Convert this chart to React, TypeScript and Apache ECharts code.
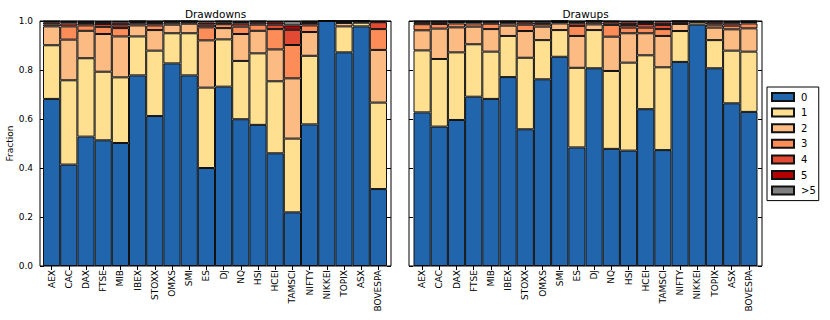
import { useEffect, useRef } from 'react';
import * as echarts from 'echarts';

const categories = ['AEX', 'CAC', 'DAX', 'FTSE', 'MIB', 'IBEX', 'STOXX', 'OMXS', 'SMI', 'ES', 'DJ', 'NQ', 'HSI', 'HCEI', 'TAMSCI', 'NIFTY', 'NIKKEI', 'TOPIX', 'ASX', 'BOVESPA'];
const buckets = ['0', '1', '2', '3', '4', '5', '>5'];
const yTicks = [0, 0.2, 0.4, 0.6, 0.8, 1.0];
const panelTitles = ['Drawdowns', 'Drawups'];

// Drawdowns: fraction per bucket, one value per index
const dd0 = [0.682, 0.414, 0.528, 0.513, 0.502, 0.778, 0.612, 0.827, 0.778, 0.400, 0.732, 0.599, 0.576, 0.460, 0.219, 0.578, 1.0, 0.872, 0.978, 0.314];
const dd1 = [0.219, 0.344, 0.320, 0.280, 0.268, 0.159, 0.267, 0.123, 0.172, 0.328, 0.193, 0.238, 0.292, 0.294, 0.301, 0.280, 0, 0.106, 0.015, 0.353];
const dd2 = [0.077, 0.166, 0.112, 0.154, 0.167, 0.045, 0.084, 0.035, 0.039, 0.193, 0.046, 0.110, 0.092, 0.130, 0.246, 0.097, 0, 0.014, 0.005, 0.215];
const dd3 = [0.008, 0.054, 0.022, 0.029, 0.034, 0.009, 0.019, 0.008, 0.006, 0.053, 0.016, 0.030, 0.025, 0.083, 0.136, 0.027, 0, 0.005, 0.002, 0.085];
const dd4 = [0.008, 0.012, 0.010, 0.012, 0.011, 0.005, 0.010, 0.004, 0.003, 0.011, 0.007, 0.012, 0.008, 0.018, 0.062, 0.010, 0, 0.002, 0, 0.028];
const dd5 = [0.004, 0.007, 0.005, 0.008, 0.011, 0.003, 0.005, 0.002, 0.001, 0.009, 0.004, 0.007, 0.005, 0.010, 0.018, 0.005, 0, 0.001, 0, 0.003];
const dd6 = [0.002, 0.003, 0.003, 0.004, 0.007, 0.001, 0.003, 0.001, 0.001, 0.006, 0.002, 0.004, 0.002, 0.005, 0.018, 0.003, 0, 0, 0, 0.002];

// Drawups
const du0 = [0.627, 0.569, 0.596, 0.691, 0.682, 0.771, 0.558, 0.762, 0.854, 0.484, 0.807, 0.478, 0.471, 0.640, 0.473, 0.833, 0.985, 0.807, 0.664, 0.629];
const du1 = [0.253, 0.276, 0.276, 0.214, 0.193, 0.168, 0.292, 0.160, 0.109, 0.325, 0.156, 0.318, 0.359, 0.220, 0.338, 0.126, 0.010, 0.115, 0.215, 0.246];
const du2 = [0.082, 0.124, 0.102, 0.072, 0.092, 0.042, 0.109, 0.055, 0.027, 0.130, 0.023, 0.140, 0.120, 0.090, 0.128, 0.029, 0.003, 0.051, 0.087, 0.095];
const du3 = [0.025, 0.019, 0.016, 0.013, 0.022, 0.010, 0.026, 0.010, 0.006, 0.041, 0.008, 0.048, 0.023, 0.023, 0.028, 0.007, 0, 0.012, 0.015, 0.020];
const du4 = [0.008, 0.007, 0.006, 0.006, 0.006, 0.005, 0.009, 0.007, 0.003, 0.011, 0.004, 0.010, 0.011, 0.015, 0.017, 0.003, 0, 0.008, 0.010, 0.006];
const du5 = [0.003, 0.003, 0.003, 0.003, 0.003, 0.003, 0.004, 0.004, 0.001, 0.006, 0.002, 0.004, 0.010, 0.008, 0.010, 0.001, 0, 0.005, 0.006, 0.003];
const du6 = [0.002, 0.002, 0.001, 0.001, 0.002, 0.001, 0.002, 0.002, 0, 0.003, 0, 0.002, 0.006, 0.004, 0.006, 0.001, 0.002, 0.002, 0.003, 0.001];

const drawdowns = [dd0, dd1, dd2, dd3, dd4, dd5, dd6];
const drawups = [du0, du1, du2, du3, du4, du5, du6];

const colors = ['#2166ac', '#fee090', '#fdbb84', '#fc8d59', '#e34a33', '#b30000', '#7f7f7f'];
const FONT = 'DejaVu Sans';

export default function App() {
  const ref = useRef<HTMLDivElement>(null);

  useEffect(() => {
    const chart = echarts.init(ref.current as HTMLDivElement, null, { renderer: 'svg' });

    const mkX = (gridIndex: number, position: string, showLabel: boolean) => ({
      type: 'category',
      gridIndex,
      position,
      data: categories,
      axisLine: { show: false },
      axisTick: { show: true, inside: true, length: 4, alignWithLabel: true, lineStyle: { color: '#000', width: 1 } },
      axisLabel: { show: showLabel, rotate: 90, interval: 0, fontSize: 9, fontFamily: FONT, color: '#000', margin: 4 },
      splitLine: { show: false },
    });

    const mkY = (gridIndex: number, position: string, offset: number, showLabel: boolean, name: string) => ({
      type: 'value',
      gridIndex,
      position,
      offset,
      min: 0,
      max: 1,
      interval: 0.2,
      axisLine: { show: false },
      axisTick: { show: true, inside: true, length: 4, lineStyle: { color: '#000', width: 1 } },
      axisLabel: {
        show: showLabel,
        fontSize: 9,
        fontFamily: FONT,
        color: '#000',
        margin: 7,
        customValues: yTicks,
        formatter: (v: number) => v.toFixed(1),
      },
      splitLine: { show: false },
      name,
      nameLocation: 'middle',
      nameGap: 18,
      nameTextStyle: { fontSize: 9, fontFamily: FONT, color: '#000' },
    });

    const series: any[] = [];
    buckets.forEach((b, k) => {
      series.push({
        name: b,
        type: 'bar',
        stack: 'dd',
        xAxisIndex: 0,
        yAxisIndex: 0,
        data: drawdowns[k],
        barWidth: '100%',
        barCategoryGap: '0%',
        itemStyle: { color: colors[k], borderColor: '#111', borderWidth: 1 },
      });
    });
    buckets.forEach((b, k) => {
      series.push({
        name: b,
        type: 'bar',
        stack: 'du',
        xAxisIndex: 2,
        yAxisIndex: 2,
        data: drawups[k],
        barWidth: '100%',
        barCategoryGap: '0%',
        itemStyle: { color: colors[k], borderColor: '#111', borderWidth: 1 },
      });
    });

    const frameStyle = { fill: 'none', stroke: '#000', lineWidth: 1 };
    const titleStyle = (text: string) => ({
      text,
      textAlign: 'center',
      textVerticalAlign: 'middle',
      fontSize: 10.5,
      fontFamily: FONT,
      fill: '#000',
    });

    chart.setOption({
      animation: false,
      backgroundColor: '#fff',
      textStyle: { fontFamily: FONT },
      legend: {
        data: buckets,
        orient: 'vertical',
        left: 767,
        top: 87,
        padding: [5, 3, 5, 4],
        itemWidth: 22,
        itemHeight: 8,
        itemGap: 5.6,
        icon: 'rect',
        borderColor: '#000',
        borderWidth: 1,
        backgroundColor: '#fff',
        selectedMode: false,
        textStyle: { fontSize: 10, lineHeight: 10, fontFamily: FONT, color: '#000', padding: [0, 0, 0, 2] },
      },
      grid: [
        { left: 43, top: 21, width: 344, height: 245, containLabel: false },
        { left: 413.5, top: 21, width: 344, height: 245, containLabel: false },
      ],
      xAxis: [mkX(0, 'bottom', true), mkX(0, 'top', false), mkX(1, 'bottom', true), mkX(1, 'top', false)],
      yAxis: [mkY(0, 'left', 3, true, 'Fraction'), mkY(0, 'right', 4, false, ''), mkY(1, 'left', 4.5, false, ''), mkY(1, 'right', 4.5, false, '')],
      series,
      graphic: [
        { type: 'rect', z: 100, silent: true, shape: { x: 40, y: 21, width: 351, height: 245 }, style: frameStyle },
        { type: 'rect', z: 100, silent: true, shape: { x: 409, y: 21, width: 353, height: 245 }, style: frameStyle },
        { type: 'text', z: 100, silent: true, x: 215.5, y: 13.5, style: titleStyle(panelTitles[0]) },
        { type: 'text', z: 100, silent: true, x: 585.5, y: 13.5, style: titleStyle(panelTitles[1]) },
      ],
    });

    return () => {
      chart.dispose();
    };
  }, []);

  return <div ref={ref} style={{ position: 'fixed', left: 0, top: 0, width: 830, height: 320 }} />;
}
